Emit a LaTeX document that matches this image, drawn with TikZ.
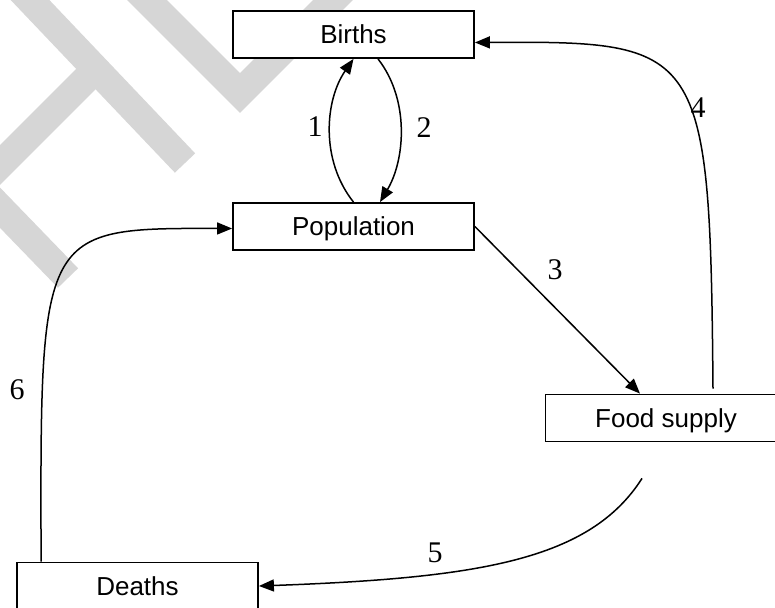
\documentclass[tikz,border=0pt]{standalone}
\usepackage{fontspec}
\setmainfont{Liberation Serif}
\setsansfont{Liberation Sans}
\usetikzlibrary{arrows.meta}
\tikzstyle{box}=[draw=black,fill=white,line width=1.8pt,minimum width=241pt,minimum height=47pt,inner sep=0pt,text height=18.6pt,text depth=0pt,font=\sffamily\fontsize{26}{30}\selectfont]
\tikzstyle{num}=[inner sep=0pt,font=\fontsize{30}{36}\selectfont]
\tikzstyle{flow}=[line width=1.5pt,->]
\tikzstyle{faint}=[draw=black!16,line width=28pt]

\begin{document}
\begin{tikzpicture}[x=1pt, y=-1pt, >={Triangle[length=15pt,width=12pt]}]
	\fill[white] (0,0) rectangle (775,607);
	\useasboundingbox (0,0) rectangle (775,607);
	% watermark
	\begin{scope}
		\clip (0,0) rectangle (775,607);
		\draw[faint] (96,69) -- (-21,186) -- (68,278);
		\draw[faint] (11,-20) -- (185,163);
		\draw[faint] (127,-20) -- (240,93) -- (353,-20);
	\end{scope}
	\node[box] (births) at (353.5,34.5) {Births};
	\node[box] (pop) at (353.5,226.5) {Population};
	\node[box] (food) at (666,418) {Food supply};
	\node[box] (deaths) at (137.5,586) {Deaths};
	\draw[flow] (pop.north) .. controls (320,160) and (325,100) .. (births.south);
	\draw[flow] ([xshift=24.5pt]births.south) .. controls (410,100) and (405,160) .. ([xshift=26.5pt]pop.north);
	\draw[flow] (pop.east) -- ([xshift=-26pt]food.north);
	\draw[flow] ([xshift=47pt,yshift=5pt]food.north) .. controls (710,45) and (703,41) .. ([yshift=-8pt]births.east);
	\draw[flow] ([xshift=-24pt,yshift=-36pt]food.south) .. controls (590,560) and (480,578) .. (deaths.east);
	\draw[flow] ([xshift=25pt]deaths.north west) .. controls (40,228) .. ([yshift=-2pt]pop.west);
	\node[num] (n1) at (315,127) {1};
	\node[num] (n2) at (424,128) {2};
	\node[num] (n3) at (555,270) {3};
	\node[num] (n4) at (698,108) {4};
	\node[num] (n5) at (435,553) {5};
	\node[num] (n6) at (17,390) {6};
\end{tikzpicture}
\end{document}
